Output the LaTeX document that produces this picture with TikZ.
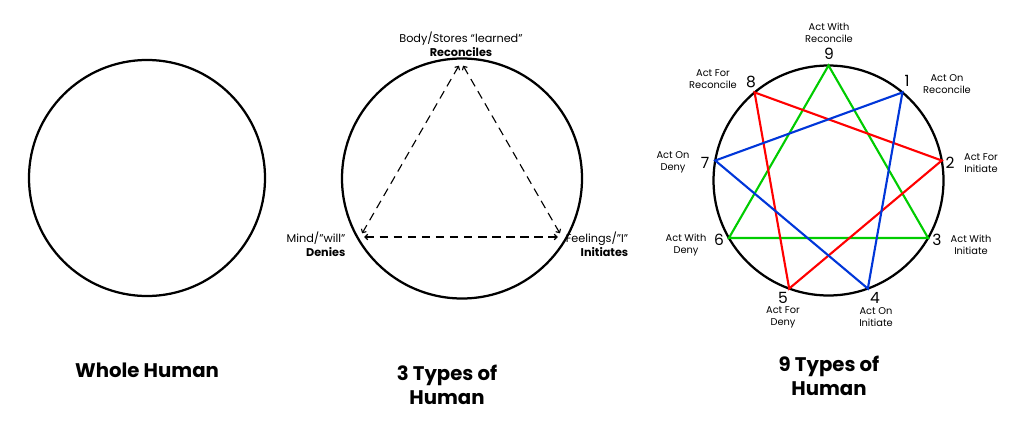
\documentclass[tikz,border=0pt]{standalone}
\usepackage{fontspec}
\setmainfont{Poppins}
\usepackage{tikz}
\usetikzlibrary{arrows.meta}

\begin{document}
\begin{tikzpicture}[
	x=0.025cm, y=-0.025cm,
	ring/.style={draw, line width=1.6pt},
	title/.style={font=\fontsize{14}{17}\selectfont\bfseries, align=center},
	label/.style={font=\fontsize{7}{8.5}\selectfont, align=center, inner sep=1pt},
	num/.style={font=\fontsize{11}{12}\selectfont, inner sep=1pt},
	side/.style={draw, thick, dashed, dash pattern=on 6pt off 4pt, shorten <=3pt, shorten >=3pt, {Straight Barb[length=2pt]}-{Straight Barb[length=2pt]}},
	star/.style={line width=1.5pt, line join=miter}
	]
	\useasboundingbox (0,0) rectangle (1024,433);
	
	% Whole human
	\node[ring, circle, minimum size=236*0.025cm] (whole) at (147,178) {};
	\node[title] (wholeT) at (147,370) {Whole Human};
	
	% Three types
	\node[ring, circle, minimum size=240*0.025cm] (three) at (462,178.5) {};
	\coordinate (body) at (461,62);
	\coordinate (mind) at (360,237);
	\coordinate (feel) at (562,237);
	\draw[side] (body) -- (mind);
	\draw[side] (body) -- (feel);
	\draw[side] (mind) -- (feel);
	\node[label, font=\fontsize{8}{10}\selectfont, above] (bodyL) at (461,58) {Body/Stores “learned”\\\textbf{Reconciles}};
	\node[label, font=\fontsize{8}{10}\selectfont, align=right] (mindL) at (316,244) {Mind/"will"\\\textbf{Denies}};
	\node[label, font=\fontsize{8}{10}\selectfont, align=right] (feelL) at (597,244) {Feelings/"I"\\\textbf{Initiates}};
	\node[title] (threeT) at (447,385) {3 Types of\\Human};
	
	% Nine types
	\node[ring, circle, minimum size=230*0.025cm] (nine) at (828.5,180.5) {};
	\foreach \k in {1,...,9}
		\coordinate (p\k) at ([shift={(828.5,180.5)}]{40*\k-90}:115);
	\draw[star, green!60!black!50!green] (p9) -- (p3) -- (p6) -- cycle;
	\draw[star, red] (p8) -- (p5) -- (p2) -- cycle;
	\draw[star, blue!75!cyan!85!black] (p1) -- (p4) -- (p7) -- cycle;
	\node[label, above] (l9) at (829,44) {Act With\\Reconcile};
	\node[num] (n9) at (829,54) {9};
	\node[num] (n1) at (907,81) {1};
	\node[num] (n2) at (950,163) {2};
	\node[num] (n3) at (937,240) {3};
	\node[num] (n4) at (875,298) {4};
	\node[num] (n5) at (783,298) {5};
	\node[num] (n6) at (719,240) {6};
	\node[num] (n7) at (705,163) {7};
	\node[num] (n8) at (751,82) {8};
	\node[label] (l1) at (947,84) {Act On\\Reconcile};
	\node[label] (l2) at (981,163) {Act For\\Initiate};
	\node[label] (l3) at (971,245) {Act With\\Initiate};
	\node[label] (l4) at (876,317) {Act On\\Initiate};
	\node[label] (l5) at (783,317) {Act For\\Deny};
	\node[label] (l6) at (686,245) {Act With\\Deny};
	\node[label] (l7) at (673,162) {Act On\\Deny};
	\node[label] (l8) at (713,79) {Act For\\Reconcile};
	\node[title] (nineT) at (829,376) {9 Types of\\Human};
	
\end{tikzpicture}
\end{document}
